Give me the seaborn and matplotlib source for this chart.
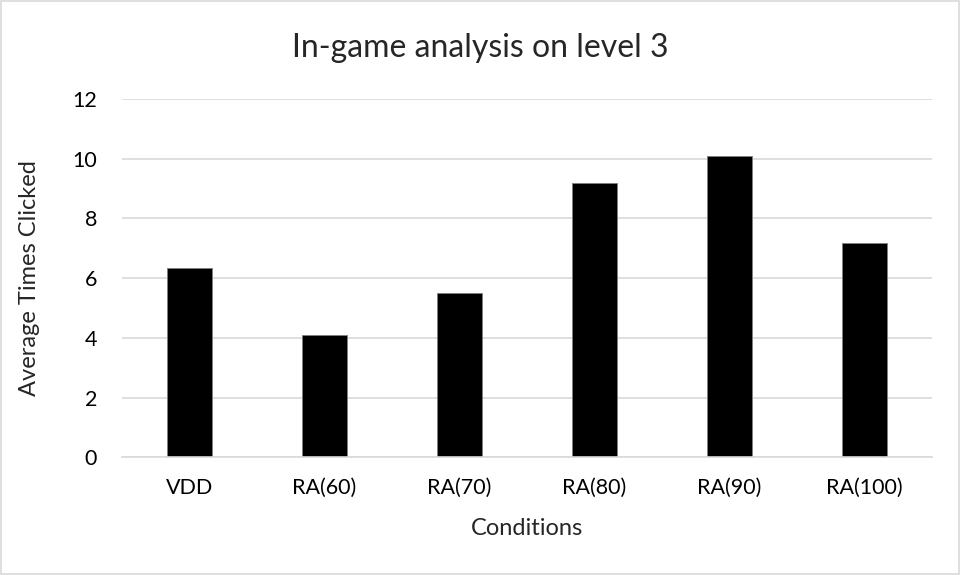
import matplotlib
matplotlib.use("Agg")
import matplotlib.pyplot as plt
import seaborn as sns
import pandas as pd
from matplotlib.patches import Rectangle

conditions = ["VDD", "RA(60)", "RA(70)", "RA(80)", "RA(90)", "RA(100)"]
avg_clicks = [6.35, 4.11, 5.49, 9.20, 10.09, 7.16]
y_ticks = [0, 2, 4, 6, 8, 10, 12]

df = pd.DataFrame({"Conditions": conditions, "Average Times Clicked": avg_clicks})

sns.set_theme(style="white")
plt.rcParams["font.family"] = ["Lato", "DejaVu Sans"]

fig = plt.figure(figsize=(9.61, 5.75), dpi=100)
ax = fig.add_axes([0.127, 0.2047, 0.843, 0.6233])

sns.barplot(data=df, x="Conditions", y="Average Times Clicked", color="black",
            width=0.33, ax=ax, saturation=1, edgecolor="#7f7f7f", linewidth=0.6)

ax.set_ylim(0, 12)
ax.set_yticks(y_ticks)
ax.set_xlim(-0.5, len(conditions) - 0.5)
ax.yaxis.grid(True, color="#d9d9d9", linewidth=1.2)
ax.set_axisbelow(True)
for side in ["top", "right", "left"]:
    ax.spines[side].set_visible(False)
ax.spines["bottom"].set_color("#d9d9d9")
ax.spines["bottom"].set_linewidth(1.2)
ax.tick_params(axis="both", length=0, labelsize=15.5, colors="#000000")
ax.tick_params(axis="y", pad=18)
ax.tick_params(axis="x", pad=15)

ax.set_xlabel("Conditions", fontsize=17, labelpad=14)
ax.set_ylabel("Average Times Clicked", fontsize=17, labelpad=23)
fig.suptitle("In-game analysis on level 3", fontsize=23, y=0.942)

fig.patches.append(Rectangle((0.001, 0.001), 0.997, 0.997, transform=fig.transFigure,
                             fill=False, edgecolor="#d9d9d9", linewidth=1.2))

fig.savefig("out.png", dpi=100, facecolor="white")
